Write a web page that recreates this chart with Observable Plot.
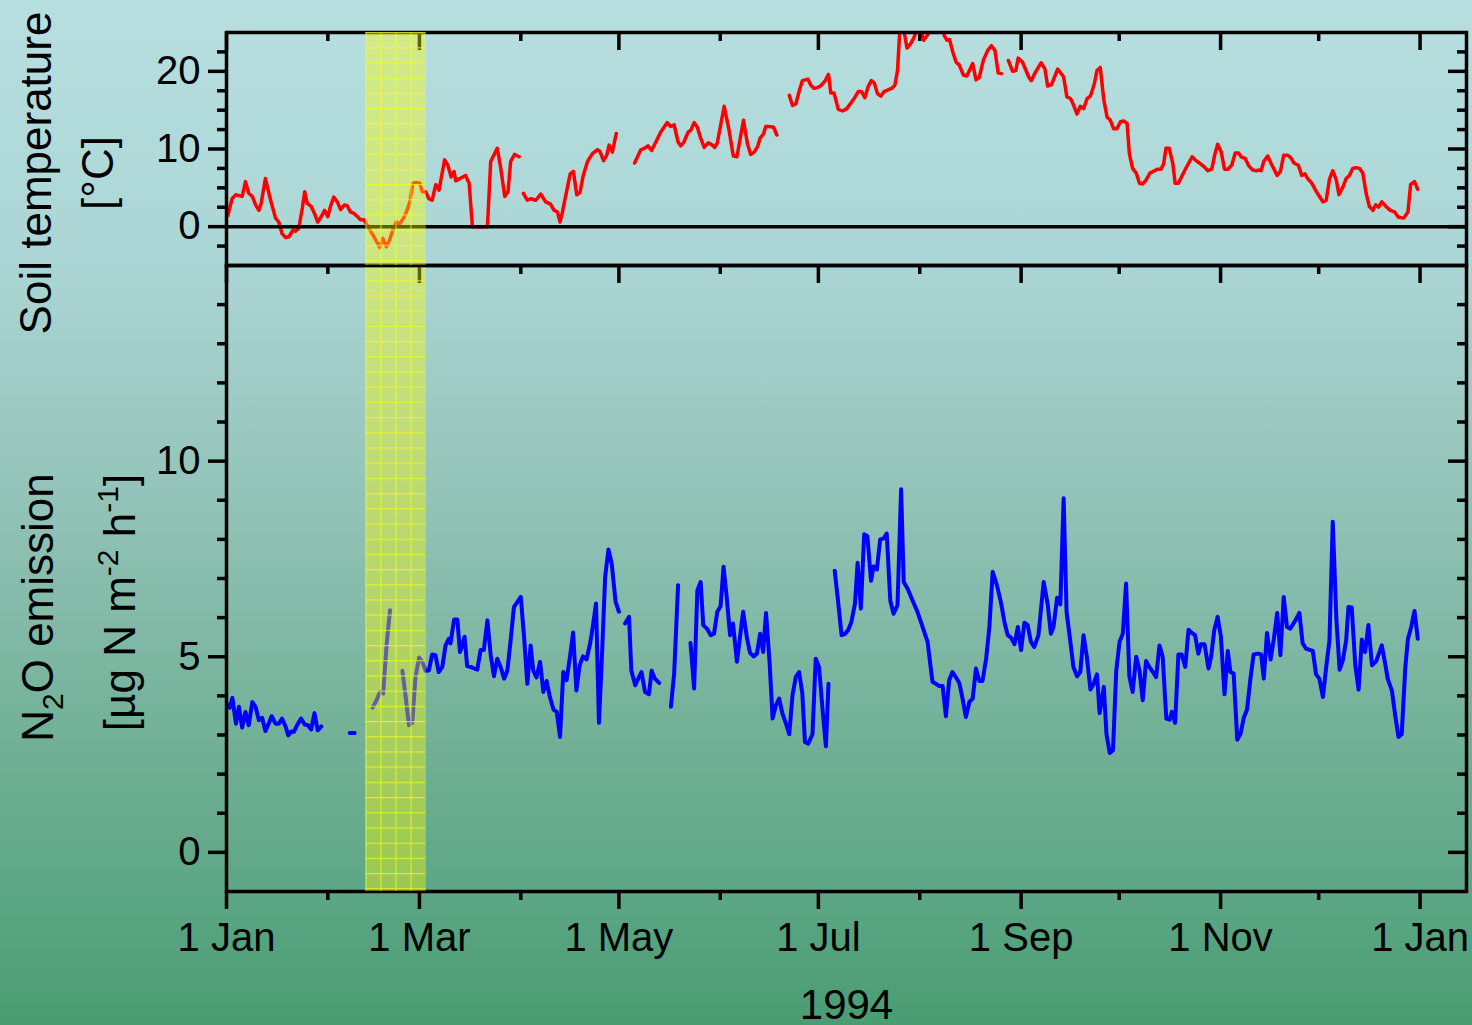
<!DOCTYPE html>
<html><head><meta charset="utf-8">
<script src="https://cdn.jsdelivr.net/npm/d3@7"></script>
<script src="https://cdn.jsdelivr.net/npm/@observablehq/plot@0.6"></script>
<style>
html,body{margin:0;padding:0;overflow:hidden;}
body{width:1472px;height:1025px;position:relative;
  background:linear-gradient(to bottom,#b8dfe0 0%,#abd5d4 26%,#96c5bb 46%,#6eae93 75%,#5ba684 88%,#4a9c72 100%);
  font-family:"Liberation Sans",Arial,sans-serif;}
#bottom,#top{position:absolute;left:0;}
#top{top:0;} #bottom{top:255px;}
svg{overflow:visible;}
</style></head><body>
<div id="bottom"></div><div id="top"></div>
<script>
// ---- data (day of year 1994 from 1 Jan = 0, value); null = gap in record ----
const soilTemp = [
[0.4,1.4],[1.7,3.6],[2.8,4.1],[4.8,3.9],[5.8,5.8],[6.8,4.3],[7.9,3.9],[8.9,2.8],[9.9,2.1],[10.6,3.0],
[11.9,6.2],[13.5,3.4],[15.0,1.1],[16.0,0.6],[17.0,-0.9],[18.1,-1.4],[19.1,-1.3],[20.4,-0.4],[21.1,-0.6],[22.1,-0.2],
[23.2,2.4],[23.9,4.5],[24.7,3.0],[25.9,2.6],[26.9,1.7],[27.9,0.6],[29.0,1.3],[30.0,2.1],[31.0,1.3],[31.8,2.6],
[32.8,3.8],[33.9,3.2],[34.9,2.2],[36.1,2.8],[36.9,2.7],[37.9,1.9],[39.0,1.7],[40.0,1.3],[41.0,0.9],[42.0,0.9],
[43.0,0.2],[44.1,-0.6],[45.1,-1.3],[46.1,-2.1],[46.9,-2.7],[47.8,-1.5],[48.9,-2.6],[49.9,-1.7],[50.9,-0.4],[51.9,0.6],
[52.9,0.3],[54.0,1.0],[55.0,1.9],[56.0,3.1],[57.0,5.6],[58.0,5.7],[59.1,5.6],[59.9,4.5],[60.9,4.5],[61.9,3.6],
[62.9,3.4],[64.0,5.4],[65.0,4.7],[66.7,8.6],[67.7,7.9],[68.7,6.4],[69.6,7.1],[70.1,5.9],[71.4,6.2],[73.1,6.6],
[74.2,5.6],[75.2,0],[76.5,0],[78.0,0],[79.8,0],[80.8,8.4],[82.8,10.1],[83.8,7.7],[85.1,3.9],[86.1,4.5],
[86.9,8.4],[88.1,9.3],[89.5,9.0],[90.1,null],
[90.8,4.3],[92.0,3.4],[93.0,3.6],[94.6,3.4],[96.1,4.2],[97.6,3.2],[99.1,2.9],[100.2,2.1],[101.2,1.9],[102.0,0.6],
[102.7,1.8],[103.7,3.9],[105.1,6.8],[106.1,7.1],[107.1,4.1],[108.1,4.4],[109.1,6.6],[110.4,8.4],[111.9,9.4],[113.4,9.9],
[114.2,9.7],[115.3,8.5],[116.3,9.2],[117.0,10.5],[118.0,9.6],[119.2,12.0],[122.0,null],
[124.8,8.2],[126.7,9.9],[127.9,10.1],[128.9,10.4],[130.0,9.8],[131.3,10.9],[132.8,12.2],[134.8,13.4],[135.8,12.9],[136.9,13.1],
[138.1,10.9],[138.9,10.4],[139.9,10.9],[141.2,12.2],[142.0,12.4],[143.0,13.4],[144.0,12.8],[145.0,11.4],[146.1,10.2],[147.3,10.8],
[148.6,10.5],[149.3,10.2],[150.1,10.8],[152.2,15.5],[153.7,12.4],[155.0,9.1],[156.1,9.0],[158.1,13.7],[159.3,10.7],[160.3,9.3],
[161.4,9.6],[162.4,10.3],[163.2,11.4],[164.2,11.9],[164.9,12.9],[165.9,12.9],[167.3,12.8],[168.3,11.8],[170.0,null],
[172.1,16.9],[173.1,15.6],[174.1,15.8],[175.1,17.4],[176.1,18.8],[177.8,19.0],[178.7,18.2],[179.7,17.8],[180.7,17.9],[181.9,18.2],
[183.1,18.8],[184.1,19.6],[184.8,17.2],[185.8,17.2],[187.1,15.1],[188.4,14.9],[189.7,15.2],[190.9,15.9],[192.1,16.6],[193.2,17.4],
[194.2,17.4],[195.2,16.6],[196.2,18.0],[197.2,18.8],[198.1,18.5],[199.1,17.1],[200.1,16.8],[201.1,17.4],[202.3,17.6],[203.4,17.8],
[204.4,18.2],[205.2,20.1],[206.0,26.0],[207.0,25.6],[208.1,23.0],[209.3,23.6],[210.3,24.4],[211.3,25.8],[212.3,25.4],[213.2,24.0],
[214.6,24.8],[215.6,26.2],[217.0,26.8],[218.5,26.2],[219.5,24.6],[220.3,24.0],[221.1,24.1],[222.1,22.5],[223.1,21.2],[224.1,20.8],
[225.4,19.5],[226.4,19.4],[228.2,21.0],[229.2,18.9],[230.2,19.2],[231.5,21.5],[232.8,22.7],[233.9,23.3],[235.0,22.7],[236.0,19.8],
[237.0,19.7],[238.0,null],
[239.1,21.4],[240.4,20.0],[241.4,20.1],[242.1,21.7],[243.4,21.2],[244.4,20.2],[245.4,19.2],[246.1,18.8],[247.4,19.9],[249.1,21.1],
[250.3,20.3],[251.1,18.1],[252.3,18.3],[254.2,20.3],[256.0,19.3],[257.0,16.7],[258.1,16.5],[259.1,15.6],[260.1,14.5],[261.1,15.5],
[262.1,15.2],[263.2,16.5],[264.2,16.8],[265.4,18.4],[266.2,20.1],[267.2,20.5],[268.3,16.3],[269.3,14.1],[270.3,13.7],[271.3,12.6],
[272.3,12.6],[273.4,13.5],[274.4,13.6],[275.4,13.3],[276.1,9.4],[277.1,7.5],[278.2,6.9],[279.2,5.6],[280.2,5.5],[281.2,6.0],
[282.4,6.9],[283.8,7.2],[284.8,7.4],[285.8,7.4],[286.6,8.1],[287.3,10.1],[288.3,10.1],[289.4,8.1],[290.1,5.6],[291.1,5.6],
[293.1,7.3],[295.3,9.0],[296.2,8.6],[297.5,8.2],[299.0,7.7],[300.1,7.2],[301.3,7.4],[302.3,9.4],[303.1,10.6],[304.2,9.6],
[305.2,7.4],[306.2,7.4],[307.4,7.9],[308.5,9.5],[309.5,9.5],[310.3,9.0],[311.5,8.8],[312.5,7.9],[313.8,7.3],[314.9,7.2],
[315.9,7.3],[316.4,7.2],[317.2,8.4],[318.4,9.1],[319.5,8.1],[321.3,6.6],[322.3,7.1],[323.3,9.2],[324.6,9.2],[325.6,8.8],
[326.4,8.2],[327.8,7.9],[328.8,6.6],[329.8,6.8],[330.8,6.1],[331.9,5.6],[332.9,4.8],[333.9,4.1],[335.3,3.2],[336.3,3.4],
[337.3,6.1],[338.3,7.2],[339.4,6.0],[340.2,4.1],[341.4,5.1],[342.4,6.2],[343.4,6.6],[344.4,7.5],[345.5,7.6],[346.5,7.5],
[347.5,6.9],[348.5,4.3],[349.5,2.6],[350.6,2.1],[351.4,2.8],[352.3,2.5],[353.3,3.2],[354.6,2.6],[355.9,2.1],[357.2,1.9],
[358.4,1.2],[360.0,1.1],[361.3,1.9],[362.1,5.4],[363.3,5.8],[364.3,4.8]
];

const n2oEmission = [
[0.0,3.80],[1.0,3.70],[1.8,3.95],[2.9,3.29],[3.8,3.72],[4.8,3.19],[5.8,3.59],[6.8,3.25],[7.9,3.84],[8.9,3.72],
[9.9,3.38],[10.9,3.44],[11.9,3.10],[12.9,3.29],[13.8,3.48],[15.0,3.29],[16.0,3.29],[17.0,3.42],[18.1,3.21],[18.9,2.99],
[19.8,3.09],[20.6,3.08],[21.6,3.25],[22.8,3.42],[23.9,3.27],[24.9,3.25],[25.9,3.14],[26.9,3.56],[27.9,3.12],[29.0,3.22],
[33.0,null],
[37.7,3.05],[39.2,3.05],[42.0,null],
[44.7,3.70],[45.9,3.89],[46.9,4.10],[47.9,4.06],[49.0,5.34],[50.0,6.19],[52.0,null],
[53.8,4.64],[54.8,3.97],[55.8,3.25],[56.8,3.31],[57.8,4.48],[58.9,4.98],[59.9,4.87],[60.9,4.64],[61.9,4.65],[62.9,5.06],
[63.9,5.04],[64.9,4.61],[66.0,4.74],[67.0,5.29],[68.0,5.46],[68.5,5.34],[69.6,5.95],[70.6,5.95],[71.4,5.12],[72.1,5.29],
[72.8,5.51],[73.6,4.76],[74.7,4.74],[75.7,4.70],[76.7,4.67],[77.7,5.17],[78.7,5.17],[79.8,5.93],[80.8,5.04],[81.8,4.50],
[82.8,4.95],[83.8,4.74],[84.9,4.44],[85.9,4.65],[86.9,5.42],[87.9,6.27],[90.0,6.53],[91.0,5.51],[92.0,4.31],[93.0,5.29],
[93.8,4.65],[94.8,4.47],[95.9,4.87],[96.9,4.10],[97.9,4.38],[98.9,3.97],[100.0,3.65],[101.0,3.59],[102.0,2.95],[103.0,4.61],
[104.0,4.40],[105.1,5.04],[106.0,5.62],[107.0,4.14],[108.0,4.78],[109.0,5.01],[110.1,4.93],[111.2,5.34],[112.0,5.76],[113.0,6.36],
[113.9,3.31],[114.9,5.17],[115.8,7.04],[116.8,7.74],[117.8,7.38],[119.0,6.40],[120.0,6.15],[121.0,null],
[121.9,5.85],[123.1,6.02],[123.8,4.65],[125.0,4.27],[125.9,4.44],[126.9,4.61],[128.0,4.10],[129.2,4.04],[130.0,4.64],[131.0,4.44],
[132.3,4.33],[134.0,null],
[135.9,3.72],[136.9,4.57],[138.1,6.83],[140.0,null],
[141.9,5.35],[143.0,4.19],[144.0,6.70],[145.0,6.91],[145.8,5.81],[146.9,5.72],[148.1,5.55],[149.1,5.59],[150.1,6.15],[151.1,6.29],
[152.0,7.30],[153.0,6.49],[154.0,5.55],[154.9,5.85],[156.1,4.87],[158.0,6.15],[159.1,5.51],[160.1,5.10],[161.2,5.01],[162.2,5.08],
[163.2,5.59],[164.1,5.12],[165.0,6.12],[166.1,4.83],[167.0,3.42],[168.0,3.76],[169.0,3.93],[170.0,3.55],[171.1,3.29],[172.1,3.02],
[173.1,4.02],[174.1,4.48],[175.1,4.61],[176.1,4.06],[176.9,2.82],[177.9,2.78],[179.2,3.02],[180.2,4.95],[181.2,4.74],[182.3,3.63],
[183.3,2.71],[184.1,4.31],[185.0,null],
[186.0,7.20],[187.1,6.36],[188.1,5.55],[189.1,5.58],[190.1,5.68],[191.1,5.89],[192.2,6.36],[193.0,7.40],[194.0,6.23],[195.0,8.13],
[196.0,8.08],[197.1,6.94],[197.9,7.31],[198.9,7.23],[199.9,8.00],[200.9,8.02],[201.9,8.15],[203.0,6.43],[204.0,6.10],[205.2,6.32],
[206.3,9.28],[207.1,6.91],[208.3,6.74],[209.8,6.44],[211.1,6.19],[212.2,5.93],[213.2,5.68],[214.4,5.38],[215.2,4.83],[215.9,4.36],
[216.9,4.31],[218.0,4.25],[219.0,4.25],[220.0,3.48],[221.0,4.40],[222.0,4.61],[223.1,4.47],[224.1,4.33],[225.1,3.93],[226.1,3.46],
[227.2,3.85],[228.2,3.93],[229.2,4.70],[230.2,4.38],[231.2,4.38],[232.3,4.95],[233.3,5.76],[234.3,7.17],[235.6,6.83],[236.8,6.40],
[237.9,5.89],[238.9,5.55],[239.9,5.49],[241.0,5.32],[242.0,5.76],[243.0,5.17],[244.0,5.87],[245.0,5.81],[246.0,5.38],[247.0,5.25],
[248.3,5.55],[249.9,6.91],[251.1,6.36],[252.1,5.59],[252.9,5.76],[254.0,6.51],[255.0,6.34],[256.0,9.05],[256.9,6.15],[258.0,5.42],
[259.0,4.74],[260.1,4.50],[261.1,4.61],[262.1,5.55],[263.1,5.00],[264.2,4.16],[265.2,4.31],[266.2,4.55],[267.0,3.56],[268.3,4.23],
[269.1,3.03],[270.1,2.54],[271.1,2.61],[272.1,4.65],[273.1,5.38],[274.1,5.59],[275.1,6.87],[276.1,4.50],[277.1,4.10],[278.2,5.00],
[279.2,4.65],[280.2,3.89],[281.2,4.89],[282.2,4.74],[283.3,4.61],[284.3,4.48],[285.3,5.29],[286.3,5.00],[287.4,3.42],[288.4,3.39],
[289.1,3.59],[290.1,3.31],[291.1,5.06],[292.1,5.06],[293.2,4.74],[294.2,5.69],[295.2,5.61],[296.2,5.55],[297.2,5.08],[298.0,5.32],
[299.1,5.32],[300.3,4.70],[301.1,5.00],[302.1,5.69],[303.1,6.02],[304.1,5.51],[305.2,4.04],[306.2,5.15],[307.0,4.61],[308.0,4.57],
[309.1,2.88],[310.1,3.03],[311.1,3.44],[312.1,3.65],[313.1,4.42],[314.1,5.06],[315.4,5.08],[316.4,5.06],[317.2,4.44],[318.2,5.61],
[319.3,4.93],[320.3,5.46],[321.3,6.12],[322.3,5.04],[323.3,6.53],[324.3,5.76],[325.3,5.72],[326.6,5.89],[328.1,6.12],[329.1,5.34],
[330.1,5.21],[332.2,5.15],[333.2,4.55],[334.2,4.44],[335.3,3.97],[336.3,4.74],[337.3,5.42],[338.3,8.45],[339.4,5.98],[340.4,4.67],
[341.4,4.91],[342.4,5.42],[343.1,6.27],[344.1,6.26],[345.2,4.78],[346.2,4.16],[347.2,5.44],[348.2,5.12],[349.2,5.81],[350.3,4.78],
[351.6,4.89],[353.3,5.29],[354.3,4.84],[355.1,4.44],[356.4,4.13],[357.4,3.50],[358.4,2.95],[359.4,3.02],[360.5,4.74],[361.3,5.46],
[362.3,5.76],[363.3,6.17],[364.3,5.46]
];

// highlighted period (frost / thaw), day of year
const frostPeriod = [{start: 42.6, end: 61.0}];

const tempMajorTicks = [0, 10, 20];
const tempMinorTicks = [-2.5, 2.5, 5, 7.5, 12.5, 15, 17.5, 22.5];
const n2oMajorTicks = [0, 5, 10];
const n2oMinorTicks = [1, 2, 3, 4, 6, 7, 8, 9, 11, 12, 13, 14];
const majorMonthTicks = ["1994-01-01","1994-03-01","1994-05-01","1994-07-01","1994-09-01","1994-11-01","1995-01-01"];
const majorMonthLabels = ["1 Jan","1 Mar","1 May","1 Jul","1 Sep","1 Nov","1 Jan"];
const minorMonthTicks = ["1994-02-01","1994-04-01","1994-06-01","1994-08-01","1994-10-01","1994-12-01"];
const xTitle = "1994";
const tempTitle = ["Soil temperature", "[°C]"];
const n2oTitle1 = [["N",""],["2","sub"],["O emission",""]];
const n2oTitle2 = [["[µg N m",""],["-2","sup"],[" h",""],["-1","sup"],["]",""]];

// ---- helpers ----
const ns = "http://www.w3.org/2000/svg";
const t0 = Date.UTC(1994, 0, 1);
const toDate = d => new Date(t0 + d * 86400000);
const rows = arr => arr.map(([d, v]) => ({date: toDate(d), value: v == null ? NaN : v}));
const tempRows = rows(soilTemp);
const n2oRows = rows(n2oEmission);
const bandRows = frostPeriod.map(b => ({start: toDate(b.start), end: toDate(b.end)}));
const majDates = majorMonthTicks.map(s => new Date(s + "T00:00:00Z"));
const minDates = minorMonthTicks.map(s => new Date(s + "T00:00:00Z"));
const monthFmt = d => majorMonthLabels[majDates.findIndex(m => +m === +d)] ?? "";

const W = 1472, ML = 226, MR = 6;
const frameW = W - ML - MR;
const font = '"Liberation Sans", Arial, sans-serif';
const xScale = {type: "utc", domain: [toDate(0), toDate(379.2)]};
const SW = 3.5; // axis / frame stroke

function defsMark(id, frameH) {
  return () => {
    const defs = document.createElementNS(ns, "defs");
    const tile = 15.2;
    defs.innerHTML = `<pattern id="${id}" patternUnits="objectBoundingBox" width="0.25" height="${tile / frameH}">
      <path d="M0.6 0V${tile + 2}M0 0.6H${tile + 2}" stroke="#f6ff20" stroke-width="1.1" stroke-opacity="0.7" fill="none"/></pattern>`;
    return defs;
  };
}
function bandMarks(id) {
  return [
    Plot.rect(bandRows, {x1: "start", x2: "end", fill: "#ffff00", fillOpacity: 0.38}),
    Plot.rect(bandRows, {x1: "start", x2: "end", fill: `url(#${id})`})
  ];
}
function tickMarks(majorY, minorY, frameH) {
  return [
    Plot.axisY({ticks: majorY, anchor: "left", tickSize: 18, tickPadding: 8, fontSize: 40, strokeWidth: SW, label: null}),
    Plot.axisY({ticks: minorY, anchor: "left", tickSize: 9, tickFormat: () => "", strokeWidth: SW, label: null}),
    Plot.ruleY(majorY, {insetLeft: frameW - 18, strokeWidth: SW, stroke: "black"}),
    Plot.ruleY(minorY, {insetLeft: frameW - 9, strokeWidth: SW, stroke: "black"}),
    Plot.ruleX(majDates, {insetBottom: frameH - 18, strokeWidth: SW, stroke: "black"}),
    Plot.ruleX(minDates, {insetBottom: frameH - 9, strokeWidth: SW, stroke: "black"})
  ];
}
function richify(svg, parts) {
  const plain = parts.map(p => p[0]).join("");
  svg.querySelectorAll("text").forEach(t => {
    if (t.textContent === plain) {
      t.textContent = "";
      let shift = 0;
      for (const [s, kind] of parts) {
        const ts = document.createElementNS(ns, "tspan");
        const target = kind === "sub" ? 10 : kind === "sup" ? -17 : 0;
        ts.setAttribute("dy", target - shift);
        shift = target;
        if (kind) ts.setAttribute("font-size", "30");
        ts.textContent = s;
        t.appendChild(ts);
      }
    }
  });
}

// ---- top panel: soil temperature ----
const topH = 233;
const topPlot = Plot.plot({
  width: W, height: 280, marginTop: 32, marginBottom: 15, marginLeft: ML, marginRight: MR,
  style: {background: "transparent", overflow: "visible", fontFamily: font, color: "black"},
  x: {...xScale, axis: null},
  y: {domain: [-5, 25], label: null},
  marks: [
    defsMark("gridTop", topH),
    Plot.line(tempRows, {x: "date", y: "value", stroke: "#ff0000", strokeWidth: 3.5, clip: true}),
    Plot.ruleY([0], {stroke: "black", strokeWidth: SW}),
    Plot.frame({stroke: "black", strokeWidth: SW}),
    ...tickMarks(tempMajorTicks, tempMinorTicks, topH),
    Plot.text([tempTitle[0]], {frameAnchor: "left", text: d => d, rotate: -90, textAnchor: "middle", lineAnchor: "middle", fontSize: 44, dx: -190, dy: 24}),
    Plot.text([tempTitle[1]], {frameAnchor: "left", text: d => d, rotate: -90, textAnchor: "middle", lineAnchor: "middle", fontSize: 44, dx: -128, dy: 24}),
    ...bandMarks("gridTop")
  ]
});
document.getElementById("top").appendChild(topPlot);

// ---- bottom panel: N2O emission ----
const botH = 626;
const botPlot = Plot.plot({
  width: W, height: 770, marginTop: 10, marginBottom: 134, marginLeft: ML, marginRight: MR,
  style: {background: "transparent", overflow: "visible", fontFamily: font, color: "black"},
  x: {...xScale},
  y: {domain: [-1, 15], label: null},
  marks: [
    defsMark("gridBot", botH),
    Plot.line(n2oRows, {x: "date", y: "value", stroke: "#0000ff", strokeWidth: 4, clip: true}),
    Plot.frame({stroke: "black", strokeWidth: SW}),
    ...tickMarks(n2oMajorTicks, n2oMinorTicks, botH),
    Plot.axisX({ticks: majDates, tickSize: 18, tickPadding: 13, fontSize: 40, strokeWidth: SW, tickFormat: monthFmt, label: null}),
    Plot.axisX({ticks: minDates, tickSize: 9, tickFormat: () => "", strokeWidth: SW, label: null}),
    Plot.text([xTitle], {frameAnchor: "bottom", text: d => d, lineAnchor: "middle", fontSize: 42, dy: 114}),
    Plot.text([n2oTitle1.map(p => p[0]).join("")], {frameAnchor: "left", text: d => d, rotate: -90, textAnchor: "middle", lineAnchor: "middle", fontSize: 44, dx: -188, dy: 29}),
    Plot.text([n2oTitle2.map(p => p[0]).join("")], {frameAnchor: "left", text: d => d, rotate: -90, textAnchor: "middle", lineAnchor: "middle", fontSize: 44, dx: -106, dy: 24}),
    ...bandMarks("gridBot")
  ]
});
richify(botPlot, n2oTitle1);
richify(botPlot, n2oTitle2);
document.getElementById("bottom").appendChild(botPlot);
</script>
</body></html>
